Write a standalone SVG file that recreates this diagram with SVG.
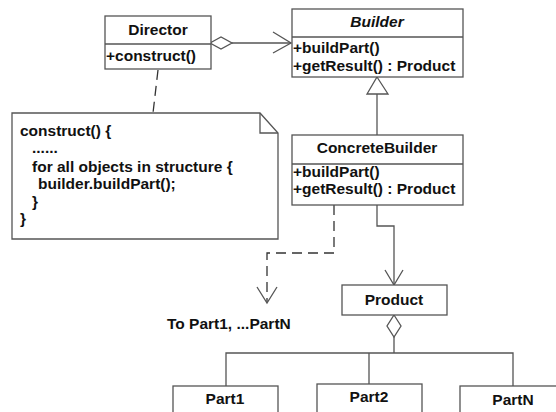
<svg xmlns="http://www.w3.org/2000/svg" width="556" height="412" viewBox="0 0 556 412">
<style>
.box{fill:#fff;stroke:#555;stroke-width:1.3}
.ln{fill:none;stroke:#555;stroke-width:1.3}
.dash{fill:none;stroke:#333;stroke-width:1.3;stroke-dasharray:10,6}
text{font-family:"Liberation Sans",Arial,sans-serif;font-weight:bold;font-size:15.5px;fill:#111}
.c{text-anchor:middle}
</style>
<rect width="556" height="412" fill="#fff"/>
<g id="connectors">
  <path class="ln" d="M232,43 H291"/>
  <path class="ln" d="M210,43 L221,37 L232,43 L221,49 Z" fill="#fff"/>
  <path class="ln" d="M273,32 L291,43 L273,53"/>
  <path class="dash" d="M158,70 L153,113"/>
  <path class="ln" d="M377,94 V135"/>
  <path class="box" d="M377,77 L388,94 L367,94 Z"/>
  <path class="dash" d="M334,205 V253 H267 V302"/>
  <path class="ln" d="M257,287 L267,303 L277,287"/>
  <path class="ln" d="M377,205 V226 H394 V285"/>
  <path class="ln" d="M385,270 L394,285 L403,270"/>
  <path class="box" d="M394,315 L401,326 L394,337 L387,326 Z"/>
  <path class="ln" d="M394,337 V353 M226,386 V353 H513 V386 M369,353 V384"/>
</g>
<g id="director">
  <rect class="box" x="105" y="16" width="106" height="53"/>
  <path class="ln" d="M105,44 H211"/>
  <text class="c" x="158" y="35">Director</text>
  <text x="106" y="61">+construct()</text>
</g>
<g id="builder">
  <rect class="box" x="292" y="9" width="171" height="68"/>
  <path class="ln" d="M292,37 H463"/>
  <text class="c" x="377" y="27" font-style="italic">Builder</text>
  <text x="293" y="53">+buildPart()</text>
  <text x="293" y="71">+getResult() : Product</text>
</g>
<g id="note">
  <path class="box" d="M12,113 H260 L278,133 V239 H12 Z"/>
  <path class="ln" d="M260,113 V133 H278"/>
  <text x="20" y="136">construct() {</text>
  <text x="32" y="153">......</text>
  <text x="32" y="172">for all objects in structure {</text>
  <text x="38" y="189">builder.buildPart();</text>
  <text x="32" y="207">}</text>
  <text x="20" y="224">}</text>
</g>
<g id="concretebuilder">
  <rect class="box" x="292" y="135" width="171" height="70"/>
  <path class="ln" d="M292,164 H463"/>
  <text class="c" x="377" y="153">ConcreteBuilder</text>
  <text x="293" y="177">+buildPart()</text>
  <text x="293" y="194">+getResult() : Product</text>
</g>
<g id="label-toparts">
  <text x="167" y="329">To Part1, ...PartN</text>
</g>
<g id="product">
  <rect class="box" x="342" y="285" width="105" height="30"/>
  <text class="c" x="394" y="305">Product</text>
</g>
<g id="part1">
  <rect class="box" x="173" y="386" width="105" height="40"/>
  <text class="c" x="225" y="404">Part1</text>
</g>
<g id="part2">
  <rect class="box" x="317" y="384" width="105" height="40"/>
  <text class="c" x="369" y="402">Part2</text>
</g>
<g id="partn">
  <rect class="box" x="460" y="386" width="105" height="40"/>
  <text class="c" x="513" y="405">PartN</text>
</g>
</svg>
